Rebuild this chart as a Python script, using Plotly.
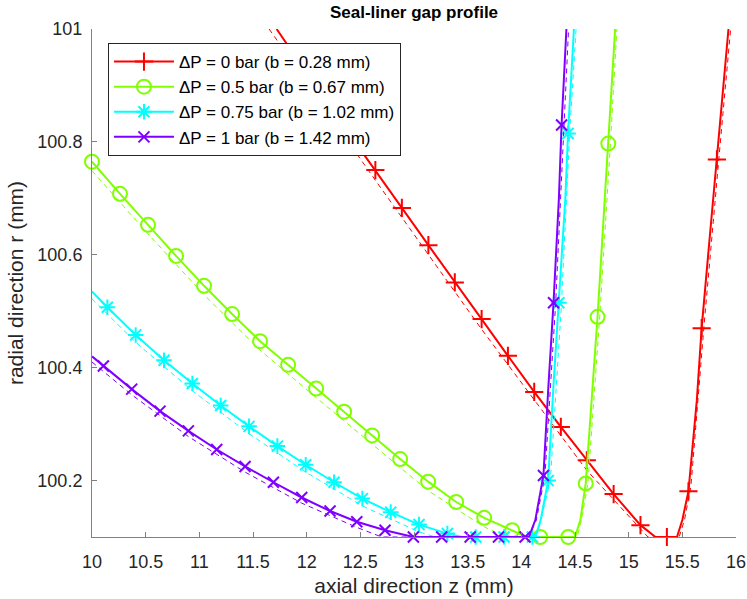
import plotly.graph_objects as go

# ---- data: seal-liner gap profiles (axial z in mm, radial r in mm) ----
series_names = [
    "ΔP = 0 bar (b = 0.28 mm)",
    "ΔP = 0.5 bar (b = 0.67 mm)",
    "ΔP = 0.75 bar (b = 1.02 mm)",
    "ΔP = 1 bar (b = 1.42 mm)",
]

# mean profile, ΔP = 0 bar
z_p0 = [11.72, 12.14, 12.39, 12.64, 12.887, 13.134, 13.38, 13.63, 13.875, 14.12,
        14.368, 14.61, 14.86, 15.11, 15.25, 15.356, 15.45, 15.50, 15.557, 15.635,
        15.68, 15.75, 15.822, 15.93]
r_p0 = [101.0, 100.883, 100.816, 100.750, 100.683, 100.617, 100.551, 100.486, 100.421, 100.357,
        100.295, 100.236, 100.176, 100.121, 100.1, 100.1, 100.1, 100.13, 100.181, 100.342,
        100.47, 100.62, 100.769, 101.0]
mk_p0 = [1, 2, 3, 4, 5, 6, 7, 8, 9, 10, 11, 12, 13, 15, 18, 20, 22]

# mean profile, ΔP = 0.5 bar
z_p05 = [10.0, 10.261, 10.522, 10.783, 11.044, 11.305, 11.566, 11.827, 12.088, 12.349,
         12.61, 12.871, 13.132, 13.393, 13.654, 13.915, 14.05, 14.176, 14.437, 14.50,
         14.55, 14.60, 14.71, 14.81, 14.874]
r_p05 = [100.765, 100.708, 100.653, 100.598, 100.545, 100.495, 100.447, 100.405, 100.363, 100.322,
         100.280, 100.238, 100.198, 100.162, 100.134, 100.112, 100.1, 100.1, 100.1, 100.1,
         100.13, 100.195, 100.49, 100.797, 101.0]
mk_p05 = [0, 1, 2, 3, 4, 5, 6, 7, 8, 9, 10, 11, 12, 13, 14, 15, 17, 18, 21, 22, 23]

# mean profile, ΔP = 0.75 bar
z_p075 = [10.0, 10.143, 10.407, 10.671, 10.935, 11.199, 11.463, 11.727, 11.991, 12.255,
          12.519, 12.783, 13.047, 13.311, 13.45, 13.575, 13.839, 14.103, 14.13, 14.18,
          14.25, 14.30, 14.35, 14.41, 14.435, 14.49]
r_p075 = [100.535, 100.507, 100.458, 100.413, 100.372, 100.333, 100.296, 100.261, 100.228, 100.197,
          100.168, 100.144, 100.122, 100.106, 100.1, 100.1, 100.1, 100.1, 100.1, 100.13,
          100.2, 100.37, 100.515, 100.70, 100.815, 101.0]
mk_p075 = [1, 2, 3, 4, 5, 6, 7, 8, 9, 10, 11, 12, 13, 15, 16, 17, 20, 22, 24]

# mean profile, ΔP = 1 bar
z_p1 = [10.0, 10.106, 10.37, 10.634, 10.898, 11.162, 11.426, 11.69, 11.954, 12.218,
        12.467, 12.73, 12.994, 13.258, 13.523, 13.787, 14.035, 14.07, 14.13, 14.206,
        14.25, 14.30, 14.35, 14.375, 14.42]
r_p1 = [100.42, 100.403, 100.362, 100.323, 100.288, 100.255, 100.225, 100.197, 100.170, 100.146,
        100.127, 100.112, 100.1, 100.1, 100.1, 100.1, 100.1, 100.1, 100.13, 100.209,
        100.36, 100.515, 100.70, 100.83, 101.0]
mk_p1 = [1, 2, 3, 4, 5, 6, 7, 8, 9, 10, 11, 12, 13, 14, 15, 16, 19, 21, 23]

# fitted profiles (dashed)
zf_p0 = [11.65, 12.64, 13.63, 14.61, 14.9, 15.18, 15.47, 15.52, 15.58, 15.70, 15.84, 15.95]
rf_p0 = [101.0, 100.732, 100.468, 100.218, 100.158, 100.1, 100.1, 100.13, 100.19, 100.47, 100.77, 101.0]
zf_p05 = [10.0, 10.522, 11.044, 11.566, 12.088, 12.61, 13.132, 13.654, 13.85, 14.52,
          14.56, 14.62, 14.73, 14.83, 14.89]
rf_p05 = [100.749, 100.637, 100.529, 100.431, 100.347, 100.264, 100.182, 100.118, 100.1, 100.1,
          100.13, 100.195, 100.49, 100.797, 101.0]
zf_p075 = [10.0, 10.407, 10.935, 11.463, 11.991, 12.519, 13.047, 13.2, 14.12, 14.17,
           14.27, 14.37, 14.45, 14.51]
rf_p075 = [100.522, 100.445, 100.359, 100.283, 100.215, 100.155, 100.109, 100.1, 100.1, 100.12,
           100.2, 100.5, 100.815, 101.0]
zf_p1 = [10.0, 10.37, 10.898, 11.426, 11.954, 12.467, 12.7, 14.07, 14.14, 14.22,
         14.32, 14.395, 14.44]
rf_p1 = [100.41, 100.352, 100.278, 100.215, 100.16, 100.117, 100.1, 100.1, 100.13, 100.209,
         100.515, 100.83, 101.0]

x_ticks = [10, 10.5, 11, 11.5, 12, 12.5, 13, 13.5, 14, 14.5, 15, 15.5, 16]
x_tick_labels = ["10", "10.5", "11", "11.5", "12", "12.5", "13", "13.5", "14", "14.5", "15", "15.5", "16"]
y_ticks = [100.2, 100.4, 100.6, 100.8, 101]
y_tick_labels = ["100.2", "100.4", "100.6", "100.8", "101"]

# ---- styling ----
colors = ["#FF0000", "#80FF00", "#00FFFF", "#7F00FF"]
symbols = ["cross-thin-open", "circle-open", "asterisk-open", "x-thin-open"]
msizes = [13, 14, 13, 11]
FONT = "Liberation Sans, Arial, sans-serif"
AXC = "#808080"
TXT = "#262626"

profiles = [
    (z_p0, r_p0, mk_p0, zf_p0, rf_p0),
    (z_p05, r_p05, mk_p05, zf_p05, rf_p05),
    (z_p075, r_p075, mk_p075, zf_p075, rf_p075),
    (z_p1, r_p1, mk_p1, zf_p1, rf_p1),
]

fig = go.Figure()
for i, (z, r, mk, zf, rf) in enumerate(profiles):
    c = colors[i]
    # fitted profile
    fig.add_trace(go.Scatter(x=zf, y=rf, mode="lines", showlegend=False,
                             line=dict(color=c, width=1, dash="5px,4px"),
                             hoverinfo="skip"))
    # mean profile
    fig.add_trace(go.Scatter(x=z, y=r, mode="lines", showlegend=False,
                             line=dict(color=c, width=2), legendgroup=str(i)))
    # markers on the mean profile
    fig.add_trace(go.Scatter(x=[z[k] for k in mk], y=[r[k] for k in mk], mode="markers",
                             showlegend=False, cliponaxis=False, legendgroup=str(i),
                             marker=dict(symbol=symbols[i], size=msizes[i], color=c,
                                         line=dict(color=c, width=2))))
    # legend entry
    fig.add_trace(go.Scatter(x=[None], y=[None], mode="lines+markers", name=series_names[i],
                             legendgroup=str(i),
                             line=dict(color=c, width=2),
                             marker=dict(symbol=symbols[i], size=msizes[i], color=c,
                                         line=dict(color=c, width=2))))

axis_common = dict(showgrid=False, zeroline=False, showline=True, linecolor=AXC, linewidth=1,
                   ticks="inside", ticklen=5, tickwidth=1, tickcolor=AXC, automargin=False,
                   tickfont=dict(family=FONT, size=18, color=TXT), mirror=False)

fig.update_layout(
    width=747, height=599,
    margin=dict(l=92, r=11, t=29, b=62, autoexpand=False),
    paper_bgcolor="white", plot_bgcolor="white",
    font=dict(family=FONT, color=TXT),
    title=dict(text="<b>Seal-liner gap profile</b>", x=0.5, xref="paper",
               y=1 - 12 / 599, yref="container", yanchor="middle", automargin=False,
               font=dict(family=FONT, size=17, color="black")),
    xaxis=dict(range=[10, 16], tickmode="array", tickvals=x_ticks, ticktext=x_tick_labels,
               ticklabelstandoff=8,
               title=dict(text="axial direction z (mm)", standoff=7,
                          font=dict(family=FONT, size=21, color=TXT)),
               **axis_common),
    yaxis=dict(range=[100.1, 101], tickmode="array", tickvals=y_ticks, ticktext=y_tick_labels,
               ticklabelstandoff=5,
               title=dict(text="radial direction r (mm)", standoff=8,
                          font=dict(family=FONT, size=21, color=TXT)),
               **axis_common),
    legend=dict(x=0.0248, y=0.9724, xanchor="left", yanchor="top",
                bgcolor="white", bordercolor=TXT, borderwidth=1,
                font=dict(family=FONT, size=17, color="black"),
                itemwidth=60, tracegroupgap=0),
    showlegend=True,
)

fig.write_html("out.html")
